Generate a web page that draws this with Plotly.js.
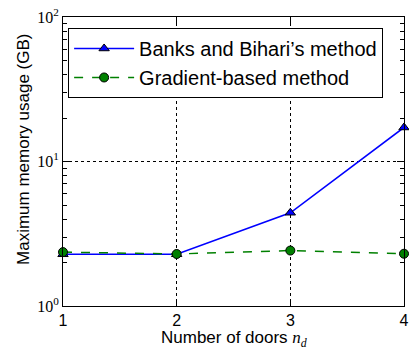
<!DOCTYPE html>
<html>
<head>
<meta charset="utf-8">
<script src="https://cdn.plot.ly/plotly-3.0.1.min.js"></script>
<style>html,body{margin:0;padding:0;background:#fff;}#chart{width:409px;height:349px;}</style>
</head>
<body>
<div id="chart"></div>
<script>
var doors = [1, 2, 3, 4];
var banksBihari = [2.28, 2.28, 4.42, 17.2];
var gradientBased = [2.36, 2.29, 2.42, 2.3];
var seriesNames = ["Banks and Bihari\u2019s method", "Gradient-based method"];
var yTickVals = [1, 10, 100];
var yTickText = ["10<sup>0</sup>", "10<sup>1</sup>", "10<sup>2</sup>"];
var xTitle = "Number of doors <span style='font-family:Liberation Serif'><i>n</i><sub><i>d</i></sub></span>";
var yTitle = "Maximum memory usage (GB)";

var traces = [
  {
    x: doors, y: banksBihari, name: seriesNames[0], type: "scatter", mode: "lines+markers",
    line: {color: "#0000ff", width: 1.5},
    marker: {symbol: "triangle-up", size: 9, color: "#0000ff", line: {color: "#000", width: 1}},
    cliponaxis: false
  },
  {
    x: doors, y: gradientBased, name: seriesNames[1], type: "scatter", mode: "lines+markers",
    line: {color: "#008000", width: 1.5, dash: "dash"},
    marker: {symbol: "circle", size: 9, color: "#008000", line: {color: "#000", width: 1}},
    cliponaxis: false
  }
];

var layout = {
  width: 409, height: 349,
  margin: {l: 63, r: 5, t: 17, b: 43},
  paper_bgcolor: "#fff", plot_bgcolor: "#fff",
  font: {family: "Liberation Sans, Arial, sans-serif", color: "#000"},
  showlegend: true,
  legend: {
    x: 0.015, y: 0.962, xanchor: "left", yanchor: "top",
    bgcolor: "#fff", bordercolor: "#000", borderwidth: 1,
    font: {size: 20, family: "Liberation Sans, Arial, sans-serif"},
    itemwidth: 60
  },
  xaxis: {
    range: [1, 4], dtick: 1, tick0: 1,
    showline: true, linecolor: "#000", linewidth: 1, mirror: "allticks",
    ticks: "inside", ticklen: 7, tickcolor: "#000",
    showgrid: true, gridcolor: "#000", gridwidth: 1, griddash: "dot",
    zeroline: false,
    tickfont: {size: 16}
  },
  yaxis: {
    type: "log", range: [0, 2],
    tickmode: "array", tickvals: yTickVals, ticktext: yTickText,
    showline: true, linecolor: "#000", linewidth: 1, mirror: "allticks",
    ticks: "inside", ticklen: 7, tickcolor: "#000",
    minor: {ticks: "inside", ticklen: 4, tickcolor: "#000", dtick: "D1", showgrid: false},
    showgrid: true, gridcolor: "#000", gridwidth: 1, griddash: "dot",
    zeroline: false,
    tickfont: {size: 16, family: "Liberation Serif, DejaVu Serif, serif"}
  },
  annotations: [
    {
      text: yTitle, textangle: -90, showarrow: false,
      xref: "paper", yref: "paper", x: 0, y: 0.54,
      xanchor: "center", yanchor: "middle", xshift: -39,
      font: {size: 17}
    },
    {
      text: xTitle, showarrow: false,
      xref: "paper", yref: "paper", x: 0.5, y: 0,
      xanchor: "center", yanchor: "middle", yshift: -33,
      font: {size: 17}
    }
  ]
};

Plotly.newPlot("chart", traces, layout, {displayModeBar: false, staticPlot: true});
</script>
</body>
</html>
